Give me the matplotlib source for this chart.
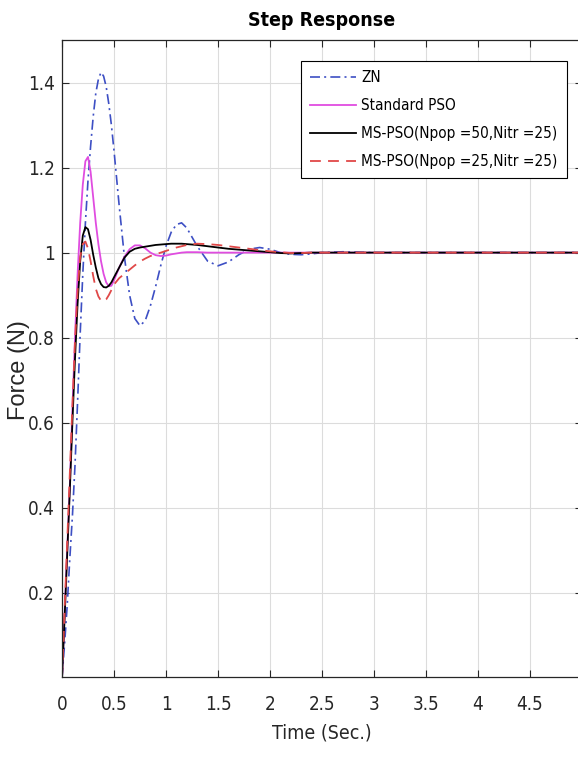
import matplotlib
matplotlib.use("Agg")
import matplotlib.pyplot as plt
from matplotlib import font_manager

# time samples (s)
t = [0, 0.025, 0.05, 0.075, 0.1, 0.125, 0.15, 0.175, 0.2, 0.225, 0.25, 0.275,
     0.3, 0.325, 0.35, 0.375, 0.4, 0.425, 0.45, 0.475, 0.5, 0.55, 0.6, 0.65,
     0.7, 0.75, 0.8, 0.85, 0.9, 0.95, 1.0, 1.05, 1.1, 1.15, 1.2, 1.3, 1.4,
     1.5, 1.6, 1.7, 1.8, 1.9, 2.0, 2.1, 2.2, 2.3, 2.4, 2.5, 2.7, 3.0, 3.5,
     4.0, 4.5, 5.0]

zn = [0, 0.08, 0.17, 0.28, 0.38, 0.50, 0.65, 0.81, 0.95, 1.07, 1.17, 1.25,
      1.32, 1.375, 1.408, 1.424, 1.415, 1.39, 1.35, 1.30, 1.24, 1.11, 0.99, 0.90,
      0.845, 0.828, 0.84, 0.875, 0.92, 0.97, 1.015, 1.048, 1.066, 1.07, 1.058, 1.015, 0.98,
      0.969, 0.978, 0.995, 1.008, 1.012, 1.008, 1.0, 0.996, 0.995, 0.997, 1.0, 1.002, 1.0, 1.0,
      1.0, 1.0, 1.0]

std_pso = [0, 0.15, 0.30, 0.45, 0.63, 0.80, 0.95, 1.07, 1.16, 1.215, 1.225, 1.19,
           1.13, 1.07, 1.02, 0.98, 0.95, 0.93, 0.921, 0.922, 0.935, 0.965, 0.99, 1.008,
           1.017, 1.017, 1.01, 1.0, 0.994, 0.992, 0.993, 0.996, 0.998, 1.0, 1.001, 1.001, 1.0,
           1.0, 1.0, 1.0, 1.0, 1.0, 1.0, 1.0, 1.0, 1.0, 1.0, 1.0, 1.0, 1.0, 1.0,
           1.0, 1.0, 1.0]

ms_pso_50 = [0, 0.14, 0.29, 0.44, 0.60, 0.75, 0.88, 0.98, 1.04, 1.06, 1.055, 1.03,
             0.995, 0.965, 0.94, 0.926, 0.919, 0.918, 0.922, 0.93, 0.942, 0.965, 0.988, 1.002,
             1.009, 1.012, 1.014, 1.016, 1.018, 1.019, 1.02, 1.021, 1.021, 1.021, 1.02, 1.018, 1.015,
             1.012, 1.009, 1.007, 1.005, 1.003, 1.001, 0.999, 0.998, 0.999, 1.0, 1.0, 1.0, 1.0, 1.0,
             1.0, 1.0, 1.0]

ms_pso_25 = [0, 0.16, 0.32, 0.48, 0.64, 0.79, 0.91, 0.99, 1.02, 1.026, 1.01, 0.98,
             0.945, 0.915, 0.897, 0.887, 0.885, 0.89, 0.90, 0.912, 0.925, 0.94, 0.95, 0.96,
             0.97, 0.979, 0.986, 0.992, 0.996, 1.0, 1.004, 1.008, 1.012, 1.015, 1.018, 1.021, 1.02,
             1.018, 1.015, 1.012, 1.009, 1.006, 1.003, 1.001, 0.999, 0.999, 1.0, 1.0, 1.0, 1.0, 1.0,
             1.0, 1.0, 1.0]

labels = ["ZN", "Standard PSO", "MS-PSO(Npop =50,Nitr =25)", "MS-PSO(Npop =25,Nitr =25)"]
xticks = [0, 0.5, 1, 1.5, 2, 2.5, 3, 3.5, 4, 4.5]
xtick_labels = ["0", "0.5", "1", "1.5", "2", "2.5", "3", "3.5", "4", "4.5"]
yticks = [0.2, 0.4, 0.6, 0.8, 1.0, 1.2, 1.4]
ytick_labels = ["0.2", "0.4", "0.6", "0.8", "1", "1.2", "1.4"]

STRETCH = {"ultra-condensed": 100, "extra-condensed": 200, "condensed": 300,
           "semi-condensed": 400, "normal": 500}


def find_condensed():
    # narrowest upright sans face that is installed (prefer extra-condensed)
    best = None
    for f in font_manager.fontManager.ttflist:
        nm = f.name.lower()
        if "mono" in nm or "serif" in nm or "cjk" in nm or f.style != "normal":
            continue
        st = f.stretch if isinstance(f.stretch, int) else STRETCH.get(str(f.stretch), 500)
        if "narrow" in nm or "condensed" in nm:
            st = min(st, 300)
        if st >= 500 or st < 200:
            continue
        score = abs(st - 200)
        if best is None or score < best[0]:
            best = (score, f.name, f.stretch)
    return (best[1], best[2]) if best else (None, None)


cond_name, cond_stretch = find_condensed()
if cond_name:
    plt.rcParams["font.family"] = [cond_name, "DejaVu Sans"]
    plt.rcParams["font.stretch"] = cond_stretch
else:
    plt.rcParams["font.family"] = ["Liberation Sans", "DejaVu Sans"]

W, H = 578, 758
fig = plt.figure(figsize=(W / 100, H / 100), dpi=100)
x0, x1, y0, y1 = 62, 582, 40, 677
ax = fig.add_axes([x0 / W, 1 - y1 / H, (x1 - x0) / W, (y1 - y0) / H])

ax.plot(t, zn, color="#3d4fc4", lw=1.2, ls=(0, (6, 2.5, 1.2, 2.5)), label=labels[0])
ax.plot(t, std_pso, color="#e04ce0", lw=1.3, label=labels[1])
ax.plot(t, ms_pso_50, color="black", lw=1.3, label=labels[2])
ax.plot(t, ms_pso_25, color="#e04848", lw=1.3, ls=(0, (6, 4)), label=labels[3])

ax.set_xlim(0, 5)
ax.set_ylim(0.002, 1.5)
ax.set_xticks(xticks)
ax.set_xticklabels(xtick_labels)
ax.set_yticks(yticks)
ax.set_yticklabels(ytick_labels)
ax.tick_params(axis="both", direction="in", length=5, width=0.8, color="#262626",
               labelsize=13.5, labelcolor="#262626", top=True, right=True)
ax.tick_params(axis="x", pad=13)
ax.tick_params(axis="y", pad=5)
ax.grid(True, color="#dcdcdc", lw=0.8)
ax.set_axisbelow(True)
for s in ax.spines.values():
    s.set_color("#262626")
    s.set_linewidth(0.9)

ax.set_title("Step Response", fontsize=14, fontweight="bold", pad=10, color="black")
ax.set_xlabel("Time (Sec.)", fontsize=14, color="#262626", labelpad=7)
ax.set_ylabel("Force (N)", fontsize=17, family=["Liberation Sans", "DejaVu Sans"],
              fontstretch="normal", color="#262626")
ax.yaxis.set_label_coords(-0.062, 0.482)

leg = ax.legend(loc="upper right", bbox_to_anchor=(567 / W, 1 - 61 / H),
                bbox_transform=fig.transFigure, borderaxespad=0, fontsize=11,
                handlelength=3.0, handletextpad=0.35, labelspacing=0.85,
                borderpad=0.6, fancybox=False, framealpha=1, edgecolor="black")
leg.get_frame().set_linewidth(0.8)

fig.savefig("out.png", dpi=100)
plt.close(fig)
